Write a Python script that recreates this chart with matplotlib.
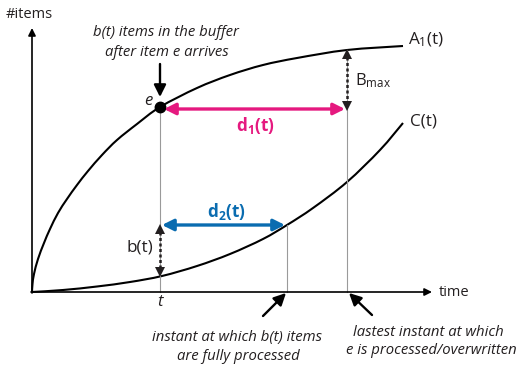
import matplotlib.pyplot as plt
from matplotlib.path import Path
from matplotlib.patches import PathPatch

# curves (pixel coords, y grows downward)
a1_x = [32, 32.5, 34, 38, 44, 50, 58, 67, 77, 88, 102, 117, 137, 160, 197, 230, 263, 297, 347, 403]
a1_y = [292, 284, 274, 259, 243, 229, 213, 199, 185, 171, 155, 140, 124, 107, 88, 75, 65, 58, 50, 46]
c_x = [32, 63, 97, 130, 162, 197, 230, 263, 287, 313, 347, 380, 403]
c_y = [292, 290, 286.5, 282, 276, 266, 254, 239, 225, 208, 182, 150, 123]

t_x = 160       # instant t
d2_x = 287      # b(t) items fully processed
d1_x = 347      # latest instant e processed
e_y = 107       # A1(t)
bt_y = 225      # C(t) + b(t)
c_t_y = 276     # C(t)
bmax_y = 50     # A1 at d1_x

pink = '#e5197f'
blue = '#0a6cb0'
gray = '#9a9a9a'
ink = '#231f20'

plt.rcParams['font.family'] = ['Open Sans', 'DejaVu Sans']
plt.rcParams['mathtext.default'] = 'regular'


def smooth_path(xs, ys):
    # Catmull-Rom through the read points, drawn as cubic Bezier segments
    pts = list(zip(xs, ys))
    verts = [pts[0]]
    codes = [Path.MOVETO]
    n = len(pts)
    for i in range(n - 1):
        p0 = pts[max(i - 1, 0)]
        p1 = pts[i]
        p2 = pts[i + 1]
        p3 = pts[min(i + 2, n - 1)]
        c1 = (p1[0] + (p2[0] - p0[0]) / 6, p1[1] + (p2[1] - p0[1]) / 6)
        c2 = (p2[0] - (p3[0] - p1[0]) / 6, p2[1] - (p3[1] - p1[1]) / 6)
        verts += [c1, c2, p2]
        codes += [Path.CURVE4] * 3
    return Path(verts, codes)


fig = plt.figure(figsize=(5.17, 3.73), dpi=100)
ax = fig.add_axes([0, 0, 1, 1])
ax.set_xlim(0, 517)
ax.set_ylim(373, 0)
ax.axis('off')

# axes
ax.annotate('', xy=(32, 28), xytext=(32, 293),
            arrowprops=dict(arrowstyle='-|>', color='black', lw=1.2, mutation_scale=11, shrinkA=0, shrinkB=0))
ax.annotate('', xy=(432, 292), xytext=(31, 292),
            arrowprops=dict(arrowstyle='-|>', color='black', lw=1.2, mutation_scale=11, shrinkA=0, shrinkB=0))
ax.text(6, 14, '#items', fontsize=10.5, va='center', ha='left', color=ink)
ax.text(439, 292, 'time', fontsize=10.5, va='center', ha='left', color=ink)

# guide lines
ax.plot([t_x, t_x], [e_y, 292], color=gray, lw=0.8)
ax.plot([d2_x, d2_x], [bt_y, 292], color=gray, lw=0.8)
ax.plot([d1_x, d1_x], [bmax_y, 292], color=gray, lw=0.8)

# curves
ax.add_patch(PathPatch(smooth_path(a1_x, a1_y), fill=False, edgecolor='black', lw=1.5))
ax.add_patch(PathPatch(smooth_path(c_x, c_y), fill=False, edgecolor='black', lw=1.5))
ax.text(408, 40, 'A$_1$(t)', fontsize=12.3, va='center', ha='left', color=ink)
ax.text(410, 122, 'C(t)', fontsize=12.3, va='center', ha='left', color=ink)

# point e
ax.plot([t_x], [e_y], 'o', color='black', ms=7.5)
ax.text(148, 101, 'e', fontsize=12, style='italic', ha='center', va='center', color=ink)
ax.annotate('', xy=(t_x, 97), xytext=(t_x, 64),
            arrowprops=dict(arrowstyle='-|>', color='black', lw=1.7, mutation_scale=18, shrinkA=0, shrinkB=0))
ax.text(166, 33, 'b(t) items in the buffer', fontsize=10.7, style='italic', ha='center', va='center', color=ink)
ax.text(167, 52, 'after item e arrives', fontsize=10.7, style='italic', ha='center', va='center', color=ink)

# d1(t)
ax.annotate('', xy=(345, 109), xytext=(164, 109),
            arrowprops=dict(arrowstyle='<|-|>', color=pink, lw=2.4, mutation_scale=17, shrinkA=0, shrinkB=0))
ax.text(255, 125, 'd$_1$(t)', fontsize=12.3, fontweight='bold', color=pink, ha='center', va='center')

# d2(t)
ax.annotate('', xy=(285, bt_y), xytext=(162, bt_y),
            arrowprops=dict(arrowstyle='<|-|>', color=blue, lw=2.4, mutation_scale=17, shrinkA=0, shrinkB=0))
ax.text(226, 212, 'd$_2$(t)', fontsize=12.3, fontweight='bold', color=blue, ha='center', va='center')

# b(t) dotted arrow
ax.plot([t_x, t_x], [bt_y + 7, c_t_y - 7], color=ink, lw=1.8, ls=(0, (1.2, 1.0)))
ax.plot([t_x], [bt_y + 4], marker='^', color=ink, ms=7, mew=0)
ax.plot([t_x], [c_t_y - 4], marker='v', color=ink, ms=7, mew=0)
ax.text(140, 248, 'b(t)', fontsize=12.3, ha='center', va='center', color=ink)

# Bmax dotted arrow
ax.plot([d1_x, d1_x], [bmax_y + 7, 103], color=ink, lw=1.8, ls=(0, (1.2, 1.0)))
ax.plot([d1_x], [bmax_y + 4], marker='^', color=ink, ms=7, mew=0)
ax.plot([d1_x], [106], marker='v', color=ink, ms=7, mew=0)
ax.text(355, 81, 'B$_{max}$', fontsize=12, ha='left', va='center', color=ink)

ax.text(t_x, 302, 't', fontsize=12, style='italic', ha='center', va='center', color=ink)

# bottom annotations
ax.annotate('', xy=(286, 293), xytext=(263, 316),
            arrowprops=dict(arrowstyle='-|>', color='black', lw=1.7, mutation_scale=18, shrinkA=0, shrinkB=0))
ax.annotate('', xy=(349, 293), xytext=(372, 315),
            arrowprops=dict(arrowstyle='-|>', color='black', lw=1.7, mutation_scale=18, shrinkA=0, shrinkB=0))
ax.text(237, 338, 'instant at which b(t) items', fontsize=10.7, style='italic', ha='center', va='center', color=ink)
ax.text(238, 357, 'are fully processed', fontsize=10.7, style='italic', ha='center', va='center', color=ink)
ax.text(428, 332, 'lastest instant at which', fontsize=10.7, style='italic', ha='center', va='center', color=ink)
ax.text(431, 351, 'e is processed/overwritten', fontsize=10.7, style='italic', ha='center', va='center', color=ink)

fig.savefig('out.png', dpi=100)
